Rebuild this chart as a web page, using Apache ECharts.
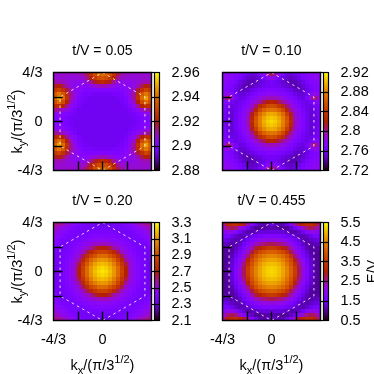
<!DOCTYPE html>
<html><head><meta charset="utf-8">
<style>html,body{margin:0;padding:0;background:#fff}#c{width:374px;height:374px}</style>
<script src="https://cdn.jsdelivr.net/npm/echarts@6/dist/echarts.min.js"></script>
</head><body><div id="c"></div>
<script>
// Panel titles and colour-bar ticks
const titles = ['t/V = 0.05','t/V = 0.10','t/V = 0.20','t/V = 0.455'];
const cbTicks005 = [2.88,2.9,2.92,2.94,2.96];
const cbTicks010 = [2.72,2.76,2.8,2.84,2.88,2.92];
const cbTicks020 = [2.1,2.3,2.5,2.7,2.9,3.1,3.3];
const cbTicks0455 = [0.5,1.5,2.5,3.5,4.5,5.5];
// k-axis
const kMin = -4/3, kMax = 4/3;
const kTicks = [-2/3,0,2/3];
const kYLabels = [-4/3,0,4/3];
const kXLabels = [-4/3,0];
// Brillouin-zone hexagon
const hexX = [0,1.1547,1.1547,0,-1.1547,-1.1547,0];
const hexY = [4/3,2/3,-2/3,-4/3,-2/3,2/3,4/3];
// Quadrant readings: rows from ky=4/3 down to 0, columns from kx=-4/3 to 0
const q005 = [
[2.908,2.908,2.908,2.908,2.908,2.908,2.909,2.911,2.916,2.925,2.933,2.938,2.94],
[2.908,2.908,2.908,2.907,2.907,2.907,2.907,2.908,2.912,2.92,2.928,2.933,2.935],
[2.91,2.91,2.909,2.907,2.906,2.905,2.905,2.905,2.907,2.912,2.918,2.922,2.924],
[2.918,2.92,2.916,2.91,2.906,2.904,2.903,2.903,2.903,2.905,2.907,2.909,2.91],
[2.928,2.931,2.926,2.917,2.909,2.905,2.903,2.901,2.9,2.9,2.9,2.9,2.9],
[2.936,2.942,2.936,2.924,2.912,2.906,2.902,2.899,2.898,2.898,2.897,2.897,2.897],
[2.938,2.948,2.94,2.926,2.912,2.905,2.9,2.898,2.897,2.896,2.896,2.896,2.896],
[2.934,2.94,2.933,2.92,2.909,2.903,2.899,2.897,2.896,2.896,2.896,2.896,2.896],
[2.924,2.925,2.92,2.912,2.905,2.901,2.898,2.896,2.896,2.896,2.896,2.896,2.896],
[2.912,2.911,2.908,2.904,2.901,2.898,2.896,2.896,2.896,2.896,2.896,2.896,2.896],
[2.905,2.904,2.902,2.9,2.898,2.897,2.896,2.896,2.896,2.896,2.896,2.896,2.896],
[2.902,2.901,2.9,2.898,2.897,2.896,2.896,2.896,2.896,2.896,2.896,2.896,2.896],
[2.901,2.9,2.899,2.898,2.897,2.896,2.896,2.896,2.896,2.896,2.896,2.896,2.896]];
const q010 = [
[2.782,2.781,2.779,2.775,2.77,2.763,2.756,2.752,2.755,2.765,2.78,2.795,2.81],
[2.78,2.779,2.776,2.771,2.765,2.758,2.751,2.748,2.75,2.756,2.765,2.778,2.785],
[2.778,2.776,2.772,2.766,2.757,2.75,2.745,2.745,2.748,2.752,2.757,2.762,2.765],
[2.775,2.772,2.768,2.76,2.752,2.746,2.745,2.748,2.752,2.755,2.76,2.762,2.762],
[2.772,2.77,2.765,2.757,2.75,2.748,2.75,2.756,2.76,2.765,2.768,2.77,2.77],
[2.778,2.785,2.775,2.76,2.752,2.752,2.758,2.765,2.77,2.775,2.778,2.78,2.78],
[2.786,2.805,2.79,2.765,2.755,2.758,2.765,2.772,2.778,2.785,2.79,2.793,2.795],
[2.775,2.772,2.763,2.757,2.76,2.765,2.772,2.78,2.79,2.8,2.81,2.82,2.825],
[2.768,2.762,2.757,2.757,2.762,2.77,2.778,2.79,2.805,2.83,2.84,2.852,2.855],
[2.765,2.758,2.754,2.758,2.766,2.775,2.785,2.8,2.825,2.85,2.865,2.873,2.875],
[2.763,2.756,2.752,2.76,2.769,2.778,2.79,2.815,2.845,2.87,2.883,2.893,2.895],
[2.762,2.755,2.752,2.76,2.77,2.78,2.793,2.825,2.857,2.878,2.893,2.902,2.905],
[2.762,2.755,2.752,2.76,2.77,2.78,2.795,2.83,2.86,2.88,2.897,2.906,2.91]];
const q020 = [
[2.6,2.58,2.55,2.51,2.47,2.43,2.4,2.375,2.36,2.35,2.34,2.33,2.33],
[2.54,2.51,2.48,2.45,2.42,2.39,2.375,2.36,2.355,2.35,2.35,2.35,2.35],
[2.5,2.47,2.44,2.41,2.39,2.37,2.36,2.36,2.365,2.37,2.375,2.38,2.38],
[2.47,2.44,2.41,2.385,2.37,2.365,2.37,2.38,2.39,2.4,2.41,2.42,2.42],
[2.44,2.4,2.38,2.37,2.365,2.375,2.39,2.41,2.42,2.44,2.455,2.46,2.46],
[2.4,2.37,2.36,2.36,2.37,2.395,2.42,2.445,2.465,2.5,2.52,2.54,2.54],
[2.37,2.355,2.355,2.365,2.39,2.415,2.45,2.485,2.53,2.57,2.65,2.69,2.7],
[2.35,2.35,2.355,2.375,2.4,2.44,2.475,2.53,2.63,2.74,2.81,2.86,2.87],
[2.34,2.345,2.36,2.39,2.42,2.46,2.52,2.63,2.78,2.87,2.93,2.99,3.0],
[2.335,2.35,2.37,2.4,2.44,2.5,2.57,2.74,2.87,2.98,3.05,3.1,3.11],
[2.33,2.35,2.375,2.41,2.455,2.52,2.65,2.81,2.94,3.05,3.13,3.17,3.19],
[2.33,2.35,2.38,2.415,2.46,2.53,2.69,2.85,2.99,3.1,3.17,3.22,3.24],
[2.33,2.35,2.38,2.415,2.46,2.53,2.7,2.86,3.0,3.11,3.19,3.24,3.26]];
const q0455 = [
[2.6,3.1,3.25,3.3,3.15,2.85,2.4,1.85,1.4,1.15,1.1,1.2,1.4],
[2.3,2.6,2.75,2.6,2.25,1.85,1.5,1.2,1.02,1.0,1.05,1.1,1.15],
[1.9,2.1,2.05,1.8,1.5,1.25,1.1,1.1,1.2,1.3,1.35,1.35,1.35],
[1.65,1.7,1.45,1.25,1.12,1.15,1.3,1.45,1.55,1.65,1.72,1.75,1.75],
[1.4,1.35,1.2,1.12,1.15,1.3,1.55,1.72,1.9,2.05,2.12,2.15,2.15],
[1.2,1.15,1.1,1.1,1.25,1.5,1.78,2.05,2.3,2.5,2.6,2.7,2.75],
[1.08,1.05,1.05,1.15,1.42,1.72,2.05,2.4,2.8,3.1,3.3,3.5,3.55],
[1.02,1.02,1.08,1.3,1.6,1.95,2.3,2.75,3.45,3.77,3.95,4.08,4.12],
[1.0,1.02,1.15,1.45,1.78,2.15,2.6,3.45,3.92,4.22,4.38,4.5,4.52],
[1.0,1.02,1.25,1.58,1.95,2.35,3.08,3.75,4.15,4.48,4.68,4.8,4.83],
[1.0,1.03,1.3,1.68,2.08,2.6,3.35,3.95,4.35,4.68,4.9,5.0,5.05],
[1.0,1.05,1.35,1.75,2.15,2.75,3.55,4.08,4.48,4.8,5.02,5.16,5.2],
[1.0,1.05,1.35,1.75,2.15,2.75,3.6,4.12,4.52,4.83,5.05,5.2,5.25]];

const FONT = '"Liberation Sans", Arial, sans-serif';
const panels = [
 {q:q005, ticks:cbTicks005, left:53.5, top:72.5, yLab:true, xLab:false},
 {q:q010, ticks:cbTicks010, left:222.5, top:72.5, yLab:false, xLab:false},
 {q:q020, ticks:cbTicks020, left:53.5, top:222.5, yLab:true, xLab:true},
 {q:q0455, ticks:cbTicks0455, left:222.5, top:222.5, yLab:false, xLab:true}
];
const SIZE = 98, BAR_GAP = 2, BAR_W = 5;
// gnuplot rgbformulae 7,5,15
const palette = [];
for (let i = 0; i <= 64; i++) {
  const t = i/64;
  const r = Math.sqrt(t), g = t*t*t, b = Math.max(0, Math.sin(2*Math.PI*t));
  palette.push('rgb(' + Math.round(r*255) + ',' + Math.round(g*255) + ',' + Math.round(b*255) + ')');
}
const cellK = (kMax-kMin)/25;
function cells(q) {
  const out = [], n = q.length, N = 2*n-1;
  for (let r = 0; r < N; r++) for (let c = 0; c < N; c++) {
    const rr = r < n ? r : N-1-r, cc = c < n ? c : N-1-c;
    out.push([kMin+(c+0.5)*cellK, kMax-(r+0.5)*cellK, q[rr][cc]]);
  }
  return out;
}
function renderCell(params, api) {
  const p0 = api.coord([api.value(0)-cellK/2, api.value(1)+cellK/2]);
  const p1 = api.coord([api.value(0)+cellK/2, api.value(1)-cellK/2]);
  const x0 = Math.round(p0[0]), y0 = Math.round(p0[1]), x1 = Math.round(p1[0]), y1 = Math.round(p1[1]);
  return {type:'rect',shape:{x:x0,y:y0,width:x1-x0,height:y1-y0},style:{fill:api.visual('color')}};
}
const kxName = '{n|k}{s|x}{n|/(π/3}{u|1/2}{n|)}';
const kyName = '{n|k}{s|y}{n|/(π/3}{u|1/2}{n|)}';
const richName = {
  n:{fontSize:14.5,fontFamily:FONT,color:'#000',lineHeight:22,verticalAlign:'middle'},
  s:{fontSize:11,fontFamily:FONT,color:'#000',lineHeight:22,verticalAlign:'bottom'},
  u:{fontSize:11,fontFamily:FONT,color:'#000',lineHeight:22,verticalAlign:'top'}
};
const kFmt = v => { const m = Math.round(v*3); return m === 0 ? '0' : (m < 0 ? '-4/3' : '4/3'); };
const option = {animation:false,backgroundColor:'#fff',
  title:[],grid:[],xAxis:[],yAxis:[],series:[],visualMap:[]};
panels.forEach((p,i) => {
  const g = i*2;
  option.title.push({text:titles[i],left:p.left+SIZE/2,top:p.top-28,textAlign:'center',
    textStyle:{fontSize:14,fontWeight:'normal',fontFamily:FONT,color:'#000'},padding:0});
  option.grid.push({show:true,z:10,left:p.left,top:p.top,width:SIZE,height:SIZE,outerBoundsMode:'none',
    borderColor:'#000',borderWidth:1.4,backgroundColor:'transparent'});
  const barLeft = p.left+SIZE+BAR_GAP+1;
  option.grid.push({show:true,z:10,left:barLeft,top:p.top,width:BAR_W,height:SIZE,outerBoundsMode:'none',
    borderColor:'#000',borderWidth:1.2,backgroundColor:'transparent'});
  const lo = p.ticks[0], hi = p.ticks[p.ticks.length-1];
  option.xAxis.push({type:'value',gridIndex:g,min:kMin,max:kMax,position:'bottom',z:12,
    splitLine:{show:false},axisLine:{show:false,onZero:false},
    axisTick:{inside:true,length:9,lineStyle:{color:'#000',width:1.4},customValues:kTicks},
    axisLabel:{show:p.xLab,customValues:kXLabels,formatter:kFmt,fontSize:14.5,fontFamily:FONT,color:'#000',margin:12},
    name:p.xLab?kxName:'',nameLocation:'middle',nameMoveOverlap:false,nameGap:34,nameTextStyle:{rich:richName}});
  option.xAxis.push({type:'value',gridIndex:g+1,min:0,max:1,show:false,axisLine:{onZero:false}});
  option.yAxis.push({type:'value',gridIndex:g,min:kMin,max:kMax,position:'left',z:12,
    splitLine:{show:false},axisLine:{show:false,onZero:false},
    axisTick:{inside:true,length:9,lineStyle:{color:'#000',width:1.4},customValues:kTicks},
    axisLabel:{show:p.yLab,customValues:kYLabels,formatter:kFmt,fontSize:14.5,fontFamily:FONT,color:'#000',margin:11},
    name:p.yLab?kyName:'',nameLocation:'middle',nameMoveOverlap:false,nameRotate:90,nameGap:25,nameTextStyle:{rich:richName}});
  option.yAxis.push({type:'value',gridIndex:g+1,min:lo,max:hi,position:'right',z:12,
    splitLine:{show:false},axisLine:{show:false,onZero:false},
    axisTick:{inside:true,length:8,lineStyle:{color:'#000',width:1.2},customValues:p.ticks},
    axisLabel:{customValues:p.ticks,formatter:v=>String(v),fontSize:14.5,fontFamily:FONT,color:'#000',margin:12},
    name:i===3?'E/V':'',nameLocation:'middle',nameMoveOverlap:false,nameRotate:90,nameGap:37,
    nameTextStyle:{fontSize:14.5,fontFamily:FONT,color:'#000'}});
  const heatIdx = option.series.length;
  option.series.push({type:'custom',xAxisIndex:i*2,yAxisIndex:i*2,data:cells(p.q),renderItem:renderCell,
    encode:{x:0,y:1},clip:true,silent:true,progressive:0,z:2});
  option.series.push({type:'line',xAxisIndex:i*2,yAxisIndex:i*2,z:4,
    data:hexX.map((x,j)=>[x,hexY[j]]),symbol:'none',silent:true,
    lineStyle:{color:'#fff',width:1,type:[2.5,3.5],opacity:0.85}});
  option.visualMap.push({type:'continuous',seriesIndex:heatIdx,dimension:2,min:lo,max:hi,
    inRange:{color:palette},left:barLeft,top:p.top,itemWidth:BAR_W,itemHeight:SIZE,
    padding:0,calculable:false,hoverLink:false,text:null,showLabel:false,z:5});
});
echarts.init(document.getElementById('c'),null,{renderer:'canvas'}).setOption(option);
</script></body></html>
